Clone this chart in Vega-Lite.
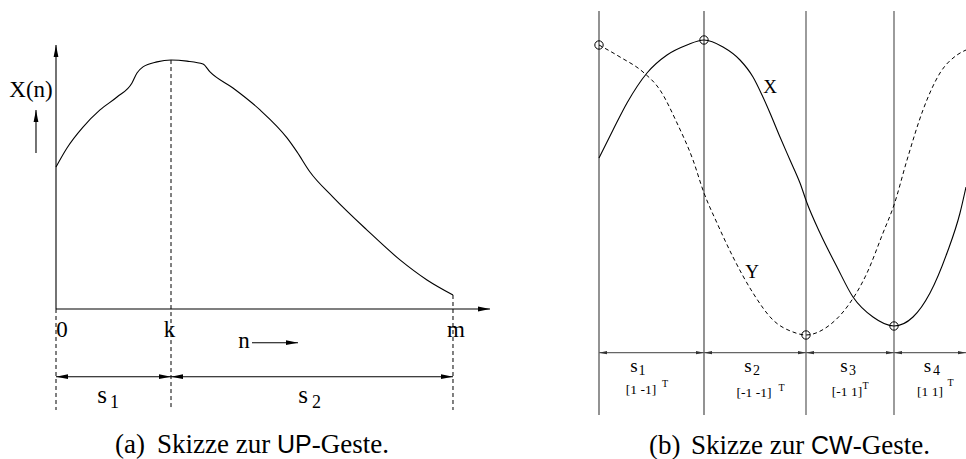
{
  "$schema": "https://vega.github.io/schema/vega-lite/v6.json",
  "background": "white",
  "padding": 0,
  "spacing": 0,
  "bounds": "flush",
  "config": {"view": {"stroke": null}},
  "datasets": {
    "upCurve": [
      {"n": 0, "x": 5.38}, {"n": 0.277, "x": 6.10}, {"n": 0.68, "x": 6.89}, {"n": 1.108, "x": 7.54},
      {"n": 1.537, "x": 8.03}, {"n": 1.914, "x": 8.56}, {"n": 2.04, "x": 8.94}, {"n": 2.191, "x": 9.17},
      {"n": 2.544, "x": 9.36}, {"n": 2.897, "x": 9.43}, {"n": 3.3, "x": 9.39}, {"n": 3.703, "x": 9.28},
      {"n": 3.879, "x": 8.98}, {"n": 4.458, "x": 8.37}, {"n": 5.139, "x": 7.54}, {"n": 5.819, "x": 6.48},
      {"n": 6.071, "x": 5.95}, {"n": 6.398, "x": 5.19}, {"n": 6.977, "x": 4.24}, {"n": 7.834, "x": 2.99},
      {"n": 8.665, "x": 1.86}, {"n": 9.345, "x": 1.10}, {"n": 10, "x": 0.53}
    ],
    "upSolid": [
      {"n": 0, "v": 0, "n2": 0, "v2": 10},
      {"n": 0, "v": 0, "n2": 10.932, "v2": 0},
      {"n": -0.504, "v": 5.909, "n2": -0.504, "v2": 7.538},
      {"n": 4.937, "v": -1.277, "n2": 6.096, "v2": -1.277},
      {"n": 0, "v": -2.564, "n2": 10, "v2": -2.564}
    ],
    "upDashed": [
      {"n": 0, "v": 0, "n2": 0, "v2": -3.826},
      {"n": 2.897, "v": 9.43, "n2": 2.897, "v2": -3.826},
      {"n": 10, "v": 0.53, "n2": 10, "v2": -3.826}
    ],
    "upHeads": [
      {"n": 0, "v": 10, "dir": "up"},
      {"n": 10.932, "v": 0, "dir": "right"},
      {"n": -0.504, "v": 7.538, "dir": "up"},
      {"n": 6.096, "v": -1.277, "dir": "right"},
      {"n": 0, "v": -2.564, "dir": "left"},
      {"n": 2.897, "v": -2.564, "dir": "right"},
      {"n": 2.897, "v": -2.564, "dir": "left"},
      {"n": 10, "v": -2.564, "dir": "right"}
    ],
    "upLabels": [
      {"n": 0.151, "v": -1.049, "label": "0"},
      {"n": 2.859, "v": -1.049, "label": "k"},
      {"n": 10.076, "v": -1.049, "label": "m"},
      {"n": 4.736, "v": -1.477, "label": "n"},
      {"n": -0.63, "v": 8.03, "label": "X(n)"}
    ],
    "upS": [
      {"n": 1.159, "v": -3.56, "label": "s"},
      {"n": 6.222, "v": -3.56, "label": "s"}
    ],
    "upSub": [
      {"n": 1.474, "v": -3.75, "label": "1"},
      {"n": 6.562, "v": -3.75, "label": "2"}
    ],
    "upCaptionSerif": [
      {"n": 1.486, "v": -5.4545, "label": "(a)"},
      {"n": 2.544, "v": -5.4545, "label": "Skizze zur"},
      {"n": 6.441, "v": -5.4545, "label": "-Geste."}
    ],
    "upCaptionSans": [
      {"n": 5.567, "v": -5.4545, "label": "UP"}
    ],
    "cwX": [
      {"t": 0, "v": 3.01}, {"t": 0.14, "v": 3.29}, {"t": 0.28, "v": 3.56}, {"t": 0.48, "v": 3.86},
      {"t": 0.68, "v": 4.04}, {"t": 0.88, "v": 4.14}, {"t": 1.05, "v": 4.19}, {"t": 1.24, "v": 4.12},
      {"t": 1.41, "v": 3.99}, {"t": 1.54, "v": 3.82}, {"t": 1.63, "v": 3.64}, {"t": 1.71, "v": 3.46},
      {"t": 1.81, "v": 3.22}, {"t": 1.91, "v": 2.99}, {"t": 2.01, "v": 2.76}, {"t": 2.08, "v": 2.56},
      {"t": 2.21, "v": 2.26}, {"t": 2.38, "v": 1.92}, {"t": 2.54, "v": 1.62},
      {"t": 2.74, "v": 1.42}, {"t": 2.95, "v": 1.33}, {"t": 3.14, "v": 1.42}, {"t": 3.31, "v": 1.66},
      {"t": 3.48, "v": 2.06}, {"t": 3.61, "v": 2.46}, {"t": 3.67, "v": 2.72}
    ],
    "cwY": [
      {"t": 0, "v": 4.14}, {"t": 0.21, "v": 4.02}, {"t": 0.44, "v": 3.87}, {"t": 0.61, "v": 3.69},
      {"t": 0.78, "v": 3.36}, {"t": 0.94, "v": 2.99}, {"t": 1.05, "v": 2.66}, {"t": 1.18, "v": 2.36},
      {"t": 1.34, "v": 2.02}, {"t": 1.54, "v": 1.66}, {"t": 1.74, "v": 1.39}, {"t": 1.94, "v": 1.27},
      {"t": 2.07, "v": 1.24}, {"t": 2.28, "v": 1.32}, {"t": 2.48, "v": 1.52}, {"t": 2.68, "v": 1.86},
      {"t": 2.84, "v": 2.26}, {"t": 2.95, "v": 2.54}, {"t": 3.08, "v": 2.99}, {"t": 3.24, "v": 3.49},
      {"t": 3.41, "v": 3.86}, {"t": 3.58, "v": 4.04}, {"t": 3.67, "v": 4.09}
    ],
    "cwLinesDark": [
      {"t": 0, "v": 4.48, "t2": 0, "v2": 0.44},
      {"t": 1.05, "v": 4.48, "t2": 1.05, "v2": 0.44}
    ],
    "cwLinesGrey": [
      {"t": 2.07, "v": 4.48, "t2": 2.07, "v2": 0.44},
      {"t": 2.95, "v": 4.48, "t2": 2.95, "v2": 0.44},
      {"t": 0, "v": 1.063, "t2": 3.67, "v2": 1.063}
    ],
    "cwCircles": [
      {"t": 0, "v": 4.14}, {"t": 1.05, "v": 4.19}, {"t": 2.07, "v": 1.24}, {"t": 2.95, "v": 1.33}
    ],
    "cwHeads": [
      {"t": 0, "v": 1.063, "dir": "left"},
      {"t": 1.05, "v": 1.063, "dir": "right"},
      {"t": 1.05, "v": 1.063, "dir": "left"},
      {"t": 2.07, "v": 1.063, "dir": "right"},
      {"t": 2.07, "v": 1.063, "dir": "left"},
      {"t": 2.95, "v": 1.063, "dir": "right"},
      {"t": 2.95, "v": 1.063, "dir": "left"},
      {"t": 3.67, "v": 1.063, "dir": "right"}
    ],
    "cwCurveLabels": [
      {"t": 1.71, "v": 3.66, "label": "X"},
      {"t": 1.53, "v": 1.81, "label": "Y"}
    ],
    "cwS": [
      {"t": 0.35, "v": 0.873, "label": "s"},
      {"t": 1.49, "v": 0.873, "label": "s"},
      {"t": 2.45, "v": 0.873, "label": "s"},
      {"t": 3.285, "v": 0.873, "label": "s"}
    ],
    "cwSub": [
      {"t": 0.43, "v": 0.84, "label": "1"},
      {"t": 1.575, "v": 0.84, "label": "2"},
      {"t": 2.535, "v": 0.84, "label": "3"},
      {"t": 3.375, "v": 0.84, "label": "4"}
    ],
    "cwMat": [
      {"t": 0.42, "v": 0.69, "label": "[1 -1]"},
      {"t": 1.55, "v": 0.66, "label": "[-1 -1]"},
      {"t": 2.48, "v": 0.67, "label": "[-1 1]"},
      {"t": 3.31, "v": 0.67, "label": "[1  1]"}
    ],
    "cwT": [
      {"t": 0.66, "v": 0.755, "label": "T"},
      {"t": 1.825, "v": 0.715, "label": "T"},
      {"t": 2.665, "v": 0.73, "label": "T"},
      {"t": 3.515, "v": 0.76, "label": "T"}
    ],
    "cwCaptionSerif": [
      {"t": 0.5, "v": 0.05, "label": "(b)"},
      {"t": 0.92, "v": 0.05, "label": "Skizze zur"},
      {"t": 2.537, "v": 0.05, "label": "-Geste."}
    ],
    "cwCaptionSans": [
      {"t": 2.12, "v": 0.05, "label": "CW"}
    ]
  },
  "hconcat": [
    {
      "width": 520,
      "height": 459,
      "layer": [
        {
          "data": {"name": "upSolid"},
          "mark": {"type": "rule", "color": "black", "strokeWidth": 1.1},
          "encoding": {
            "x": {"field": "n", "type": "quantitative", "scale": {"domain": [-1.4106, 11.6877], "nice": false, "zero": false}, "axis": null},
            "y": {"field": "v", "type": "quantitative", "scale": {"domain": [-5.6818, 11.7045], "nice": false, "zero": false}, "axis": null},
            "x2": {"field": "n2"},
            "y2": {"field": "v2"}
          }
        },
        {
          "data": {"name": "upDashed"},
          "mark": {"type": "rule", "color": "black", "strokeWidth": 1, "strokeDash": [4, 3]},
          "encoding": {
            "x": {"field": "n", "type": "quantitative"},
            "y": {"field": "v", "type": "quantitative"},
            "x2": {"field": "n2"},
            "y2": {"field": "v2"}
          }
        },
        {
          "data": {"name": "upCurve"},
          "mark": {"type": "line", "color": "black", "strokeWidth": 1.1, "interpolate": "monotone"},
          "encoding": {
            "x": {"field": "n", "type": "quantitative"},
            "y": {"field": "x", "type": "quantitative"}
          }
        },
        {
          "data": {"name": "upHeads"},
          "mark": {"type": "point", "filled": true, "color": "black", "opacity": 1, "size": 144, "strokeWidth": 0},
          "encoding": {
            "x": {"field": "n", "type": "quantitative"},
            "y": {"field": "v", "type": "quantitative"},
            "shape": {"field": "dir", "type": "nominal", "legend": null,
              "scale": {"domain": ["left", "right", "up"], "range": ["M0,0L2,-0.4L2,0.4Z", "M0,0L-2,-0.4L-2,0.4Z", "M0,0L-0.4,2L0.4,2Z"]}}
          }
        },
        {
          "data": {"name": "upLabels"},
          "mark": {"type": "text", "font": "Liberation Serif", "fontSize": 23, "align": "center", "baseline": "alphabetic", "color": "black"},
          "encoding": {
            "x": {"field": "n", "type": "quantitative"},
            "y": {"field": "v", "type": "quantitative"},
            "text": {"field": "label"}
          }
        },
        {
          "data": {"name": "upS"},
          "mark": {"type": "text", "font": "Liberation Serif", "fontSize": 25, "align": "center", "baseline": "alphabetic", "color": "black"},
          "encoding": {
            "x": {"field": "n", "type": "quantitative"},
            "y": {"field": "v", "type": "quantitative"},
            "text": {"field": "label"}
          }
        },
        {
          "data": {"name": "upSub"},
          "mark": {"type": "text", "font": "Liberation Serif", "fontSize": 18, "align": "center", "baseline": "alphabetic", "color": "black"},
          "encoding": {
            "x": {"field": "n", "type": "quantitative"},
            "y": {"field": "v", "type": "quantitative"},
            "text": {"field": "label"}
          }
        },
        {
          "data": {"name": "upCaptionSerif"},
          "mark": {"type": "text", "font": "Liberation Serif", "fontSize": 27, "align": "left", "baseline": "alphabetic", "color": "black"},
          "encoding": {
            "x": {"field": "n", "type": "quantitative"},
            "y": {"field": "v", "type": "quantitative"},
            "text": {"field": "label"}
          }
        },
        {
          "data": {"name": "upCaptionSans"},
          "mark": {"type": "text", "font": "Liberation Sans", "fontSize": 25, "align": "left", "baseline": "alphabetic", "color": "black"},
          "encoding": {
            "x": {"field": "n", "type": "quantitative"},
            "y": {"field": "v", "type": "quantitative"},
            "text": {"field": "label"}
          }
        }
      ]
    },
    {
      "width": 446,
      "height": 459,
      "layer": [
        {
          "data": {"name": "cwLinesDark"},
          "mark": {"type": "rule", "color": "#3a3a3a", "strokeWidth": 1.1},
          "encoding": {
            "x": {"field": "t", "type": "quantitative", "scale": {"domain": [-0.79, 3.67], "nice": false, "zero": false}, "axis": null},
            "y": {"field": "v", "type": "quantitative", "scale": {"domain": [0, 4.59], "nice": false, "zero": false}, "axis": null},
            "x2": {"field": "t2"},
            "y2": {"field": "v2"}
          }
        },
        {
          "data": {"name": "cwLinesGrey"},
          "mark": {"type": "rule", "color": "#666666", "strokeWidth": 1.3},
          "encoding": {
            "x": {"field": "t", "type": "quantitative"},
            "y": {"field": "v", "type": "quantitative"},
            "x2": {"field": "t2"},
            "y2": {"field": "v2"}
          }
        },
        {
          "data": {"name": "cwX"},
          "mark": {"type": "line", "color": "black", "strokeWidth": 1.1, "interpolate": "monotone"},
          "encoding": {
            "x": {"field": "t", "type": "quantitative"},
            "y": {"field": "v", "type": "quantitative"}
          }
        },
        {
          "data": {"name": "cwY"},
          "mark": {"type": "line", "color": "black", "strokeWidth": 1, "strokeDash": [4, 3], "interpolate": "monotone"},
          "encoding": {
            "x": {"field": "t", "type": "quantitative"},
            "y": {"field": "v", "type": "quantitative"}
          }
        },
        {
          "data": {"name": "cwCircles"},
          "mark": {"type": "point", "shape": "circle", "filled": false, "color": "black", "opacity": 1, "size": 70, "strokeWidth": 1},
          "encoding": {
            "x": {"field": "t", "type": "quantitative"},
            "y": {"field": "v", "type": "quantitative"}
          }
        },
        {
          "data": {"name": "cwHeads"},
          "mark": {"type": "point", "filled": true, "color": "#333333", "opacity": 1, "size": 64, "strokeWidth": 0},
          "encoding": {
            "x": {"field": "t", "type": "quantitative"},
            "y": {"field": "v", "type": "quantitative"},
            "shape": {"field": "dir", "type": "nominal", "legend": null,
              "scale": {"domain": ["left", "right"], "range": ["M0,0L2,-0.5L2,0.5Z", "M0,0L-2,-0.5L-2,0.5Z"]}}
          }
        },
        {
          "data": {"name": "cwCurveLabels"},
          "mark": {"type": "text", "font": "Liberation Serif", "fontSize": 19, "align": "center", "baseline": "alphabetic", "color": "black"},
          "encoding": {
            "x": {"field": "t", "type": "quantitative"},
            "y": {"field": "v", "type": "quantitative"},
            "text": {"field": "label"}
          }
        },
        {
          "data": {"name": "cwS"},
          "mark": {"type": "text", "font": "Liberation Serif", "fontSize": 19, "align": "center", "baseline": "alphabetic", "color": "black"},
          "encoding": {
            "x": {"field": "t", "type": "quantitative"},
            "y": {"field": "v", "type": "quantitative"},
            "text": {"field": "label"}
          }
        },
        {
          "data": {"name": "cwSub"},
          "mark": {"type": "text", "font": "Liberation Serif", "fontSize": 14, "align": "center", "baseline": "alphabetic", "color": "black"},
          "encoding": {
            "x": {"field": "t", "type": "quantitative"},
            "y": {"field": "v", "type": "quantitative"},
            "text": {"field": "label"}
          }
        },
        {
          "data": {"name": "cwMat"},
          "mark": {"type": "text", "font": "Liberation Serif", "fontSize": 13.5, "align": "center", "baseline": "middle", "color": "black"},
          "encoding": {
            "x": {"field": "t", "type": "quantitative"},
            "y": {"field": "v", "type": "quantitative"},
            "text": {"field": "label"}
          }
        },
        {
          "data": {"name": "cwT"},
          "mark": {"type": "text", "font": "Liberation Serif", "fontSize": 10, "align": "center", "baseline": "middle", "color": "black"},
          "encoding": {
            "x": {"field": "t", "type": "quantitative"},
            "y": {"field": "v", "type": "quantitative"},
            "text": {"field": "label"}
          }
        },
        {
          "data": {"name": "cwCaptionSerif"},
          "mark": {"type": "text", "font": "Liberation Serif", "fontSize": 27, "align": "left", "baseline": "alphabetic", "color": "black"},
          "encoding": {
            "x": {"field": "t", "type": "quantitative"},
            "y": {"field": "v", "type": "quantitative"},
            "text": {"field": "label"}
          }
        },
        {
          "data": {"name": "cwCaptionSans"},
          "mark": {"type": "text", "font": "Liberation Sans", "fontSize": 25, "align": "left", "baseline": "alphabetic", "color": "black"},
          "encoding": {
            "x": {"field": "t", "type": "quantitative"},
            "y": {"field": "v", "type": "quantitative"},
            "text": {"field": "label"}
          }
        }
      ]
    }
  ]
}
